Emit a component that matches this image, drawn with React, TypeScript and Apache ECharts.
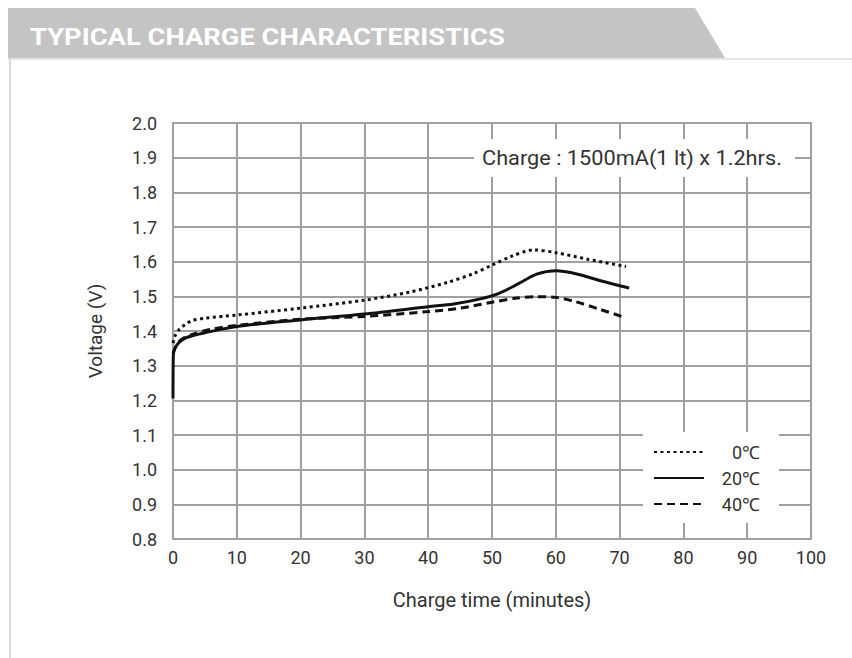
import React, { useEffect, useRef } from "react";
import * as echarts from "echarts";

const FONT = "Roboto, 'Liberation Sans', sans-serif";

const title = "TYPICAL CHARGE CHARACTERISTICS";
const note = "Charge : 1500mA(1 lt) x 1.2hrs.";
const xName = "Charge time (minutes)";
const yName = "Voltage (V)";
const seriesNames = ["0℃", "20℃", "40℃"];

// 0 °C (dotted)
const t0 = [0, 0.3, 1, 2, 3, 5, 10, 20, 30, 37, 43, 47, 50, 53, 56.5, 60, 65, 71];
const v0 = [1.365, 1.385, 1.405, 1.42, 1.43, 1.437, 1.446, 1.466, 1.489, 1.512, 1.54, 1.565, 1.59, 1.615, 1.634, 1.626, 1.607, 1.586];
// 20 °C (solid)
const t20 = [0, 0.05, 0.3, 1, 2, 3, 5, 10, 20, 30, 40, 44, 48, 51, 54, 57, 60, 63, 67, 71.5];
const v20 = [1.205, 1.33, 1.35, 1.368, 1.38, 1.386, 1.395, 1.413, 1.432, 1.449, 1.47, 1.478, 1.492, 1.508, 1.535, 1.564, 1.574, 1.566, 1.545, 1.524];
// 40 °C (dashed)
const t40 = [0, 0.3, 1, 2, 3, 6, 10, 20, 30, 40, 45, 50, 54, 57, 60, 63, 67, 71];
const v40 = [1.335, 1.35, 1.37, 1.383, 1.39, 1.405, 1.416, 1.434, 1.442, 1.456, 1.466, 1.483, 1.495, 1.499, 1.497, 1.485, 1.462, 1.438];

const pairs = (t: number[], v: number[]) => t.map((x, i) => [x, v[i]]);

function measure(text: string, font: string): number {
  const c = document.createElement("canvas").getContext("2d")!;
  c.font = font;
  return c.measureText(text).width;
}

export default function App() {
  const ref = useRef<HTMLDivElement>(null);
  useEffect(() => {
    document.body.style.margin = "0";
    const chart = echarts.init(ref.current!, null, { renderer: "svg" });
    const grid = "#a0a0a0";
    const titleFont = `bold 24px ${FONT}`;
    const titleScale = 475 / measure(title, titleFont);
    const noteFont = `20px ${FONT}`;
    const noteScale = 300 / measure(note, noteFont);
    const lineSeries = (name: string, data: number[][], type: any) => ({
      name,
      type: "line",
      data,
      showSymbol: false,
      symbol: "none",
      smooth: 0.3,
      lineStyle: { color: "#111", width: 3, type },
      itemStyle: { color: "#111" },
      z: 3,
    });
    chart.setOption({
      animation: false,
      backgroundColor: "#fff",
      textStyle: { fontFamily: FONT },
      grid: {
        left: 173,
        top: 123,
        right: 41,
        bottom: 119,
        show: true,
        borderColor: grid,
        borderWidth: 2,
      },
      xAxis: {
        type: "value",
        min: 0,
        max: 100,
        interval: 10,
        name: xName,
        nameLocation: "middle",
        nameGap: 51,
        nameTextStyle: { fontSize: 20, color: "#333", fontFamily: FONT },
        axisLine: { show: true, lineStyle: { color: grid, width: 2 } },
        axisTick: { show: false },
        splitLine: { show: true, lineStyle: { color: grid, width: 2 } },
        axisLabel: { fontSize: 18, color: "#333", margin: 9, fontFamily: FONT },
      },
      yAxis: {
        type: "value",
        min: 0.8,
        max: 2.0,
        interval: 0.1,
        name: yName,
        nameLocation: "middle",
        nameGap: 68,
        nameRotate: 90,
        nameTextStyle: { fontSize: 19, color: "#333", fontFamily: FONT },
        axisLine: { show: true, lineStyle: { color: grid, width: 2 } },
        axisTick: { show: false },
        splitLine: { show: true, lineStyle: { color: grid, width: 2 } },
        axisLabel: {
          fontSize: 18,
          color: "#333",
          margin: 16,
          fontFamily: FONT,
          formatter: (v: number) => v.toFixed(1),
        },
      },
      legend: {
        left: 643,
        top: 432,
        orient: "vertical",
        backgroundColor: "#fff",
        padding: [11, 19, 10, 10],
        itemWidth: 50,
        itemHeight: 14,
        itemGap: 8,
        data: seriesNames,
        itemStyle: { opacity: 0 },
        formatter: "{a|{name}}",
        textStyle: {
          color: "#333",
          fontFamily: FONT,
          fontSize: 18,
          rich: { a: { width: 51, align: "right", fontSize: 18, fontFamily: FONT, color: "#333" } },
        },
      },
      graphic: [
        {
          type: "polygon",
          shape: { points: [[8, 8], [695, 8], [725, 58], [8, 58]] },
          style: { fill: "#c4c4c4" },
          silent: true,
        },
        {
          type: "line",
          shape: { x1: 8, y1: 59, x2: 852, y2: 59 },
          style: { stroke: "#dedede", lineWidth: 1.5 },
          silent: true,
        },
        {
          type: "line",
          shape: { x1: 10, y1: 58, x2: 10, y2: 658 },
          style: { stroke: "#dadada", lineWidth: 2 },
          silent: true,
        },
        {
          type: "text",
          x: 30,
          y: 25,
          scaleX: titleScale,
          style: {
            text: title,
            fill: "#fff",
            font: titleFont,
          },
          silent: true,
        },
        {
          type: "rect",
          shape: { x: 474, y: 139, width: 321, height: 38 },
          style: { fill: "#fff" },
          z: 10,
          silent: true,
        },
        {
          type: "text",
          x: 482,
          y: 158,
          z: 11,
          scaleX: noteScale,
          style: {
            text: note,
            fill: "#333",
            font: noteFont,
            verticalAlign: "middle",
          },
          silent: true,
        },
      ],
      series: [
        lineSeries(seriesNames[0], pairs(t0, v0), [3, 3.5]),
        lineSeries(seriesNames[1], pairs(t20, v20), "solid"),
        lineSeries(seriesNames[2], pairs(t40, v40), [8, 5]),
      ],
    });
    return () => chart.dispose();
  }, []);
  return <div ref={ref} style={{ width: 852, height: 658 }} />;
}
